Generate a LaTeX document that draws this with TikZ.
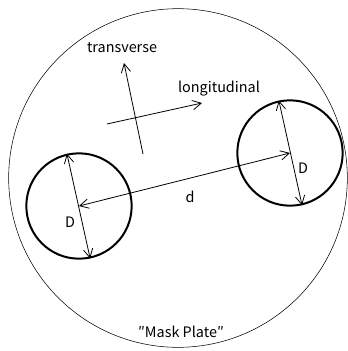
\documentclass[tikz,border=0pt]{standalone}
\usepackage{fontspec}
\newfontfamily\jpfont{Noto Sans CJK JP}
\usepackage{tikz}
\usetikzlibrary{arrows.meta}

\begin{document}
\begin{tikzpicture}[x=0.75pt, y=-0.75pt, font=\jpfont\fontsize{10.8}{13}\selectfont,
    barb/.style={{Straight Barb[length=6.5pt,width=7pt]}-{Straight Barb[length=6.5pt,width=7pt]}, semithick},
    onebarb/.style={-{Straight Barb[length=6.5pt,width=7pt]}, semithick},
    hole/.style={draw, circle, line width=1.5pt, minimum size=79pt, inner sep=0pt}]
  \useasboundingbox (0,0) rectangle (348,351);
  % the plate
  \node[draw, circle, thin, minimum size=254pt, inner sep=0pt] (plate) at (178,178) {};
  \node (platelabel) at (181,332) {″Mask Plate″};
  % the two holes
  \node[hole] (lhole) at (79,206) {};
  \node[hole] (rhole) at (290,153) {};
  \draw[barb] (lhole.103) -- (lhole.-78);
  \draw[barb] (rhole.102) -- (rhole.-77);
  \draw[barb] (lhole.center) -- (rhole.center);
  \node (lD) at (70,222) {D};
  \node (rD) at (303,168) {D};
  \node (dlabel) at (190,197) {d};
  % directions
  \coordinate (tfrom) at (143,154);
  \coordinate (tto) at (124,63);
  \coordinate (lfrom) at (107,124);
  \coordinate (lto) at (202,103);
  \draw[onebarb] (tfrom) -- (tto);
  \draw[onebarb] (lfrom) -- (lto);
  \node (tlabel) at (122,48) {transverse};
  \node (llabel) at (219,89) {longitudinal};
\end{tikzpicture}
\end{document}
